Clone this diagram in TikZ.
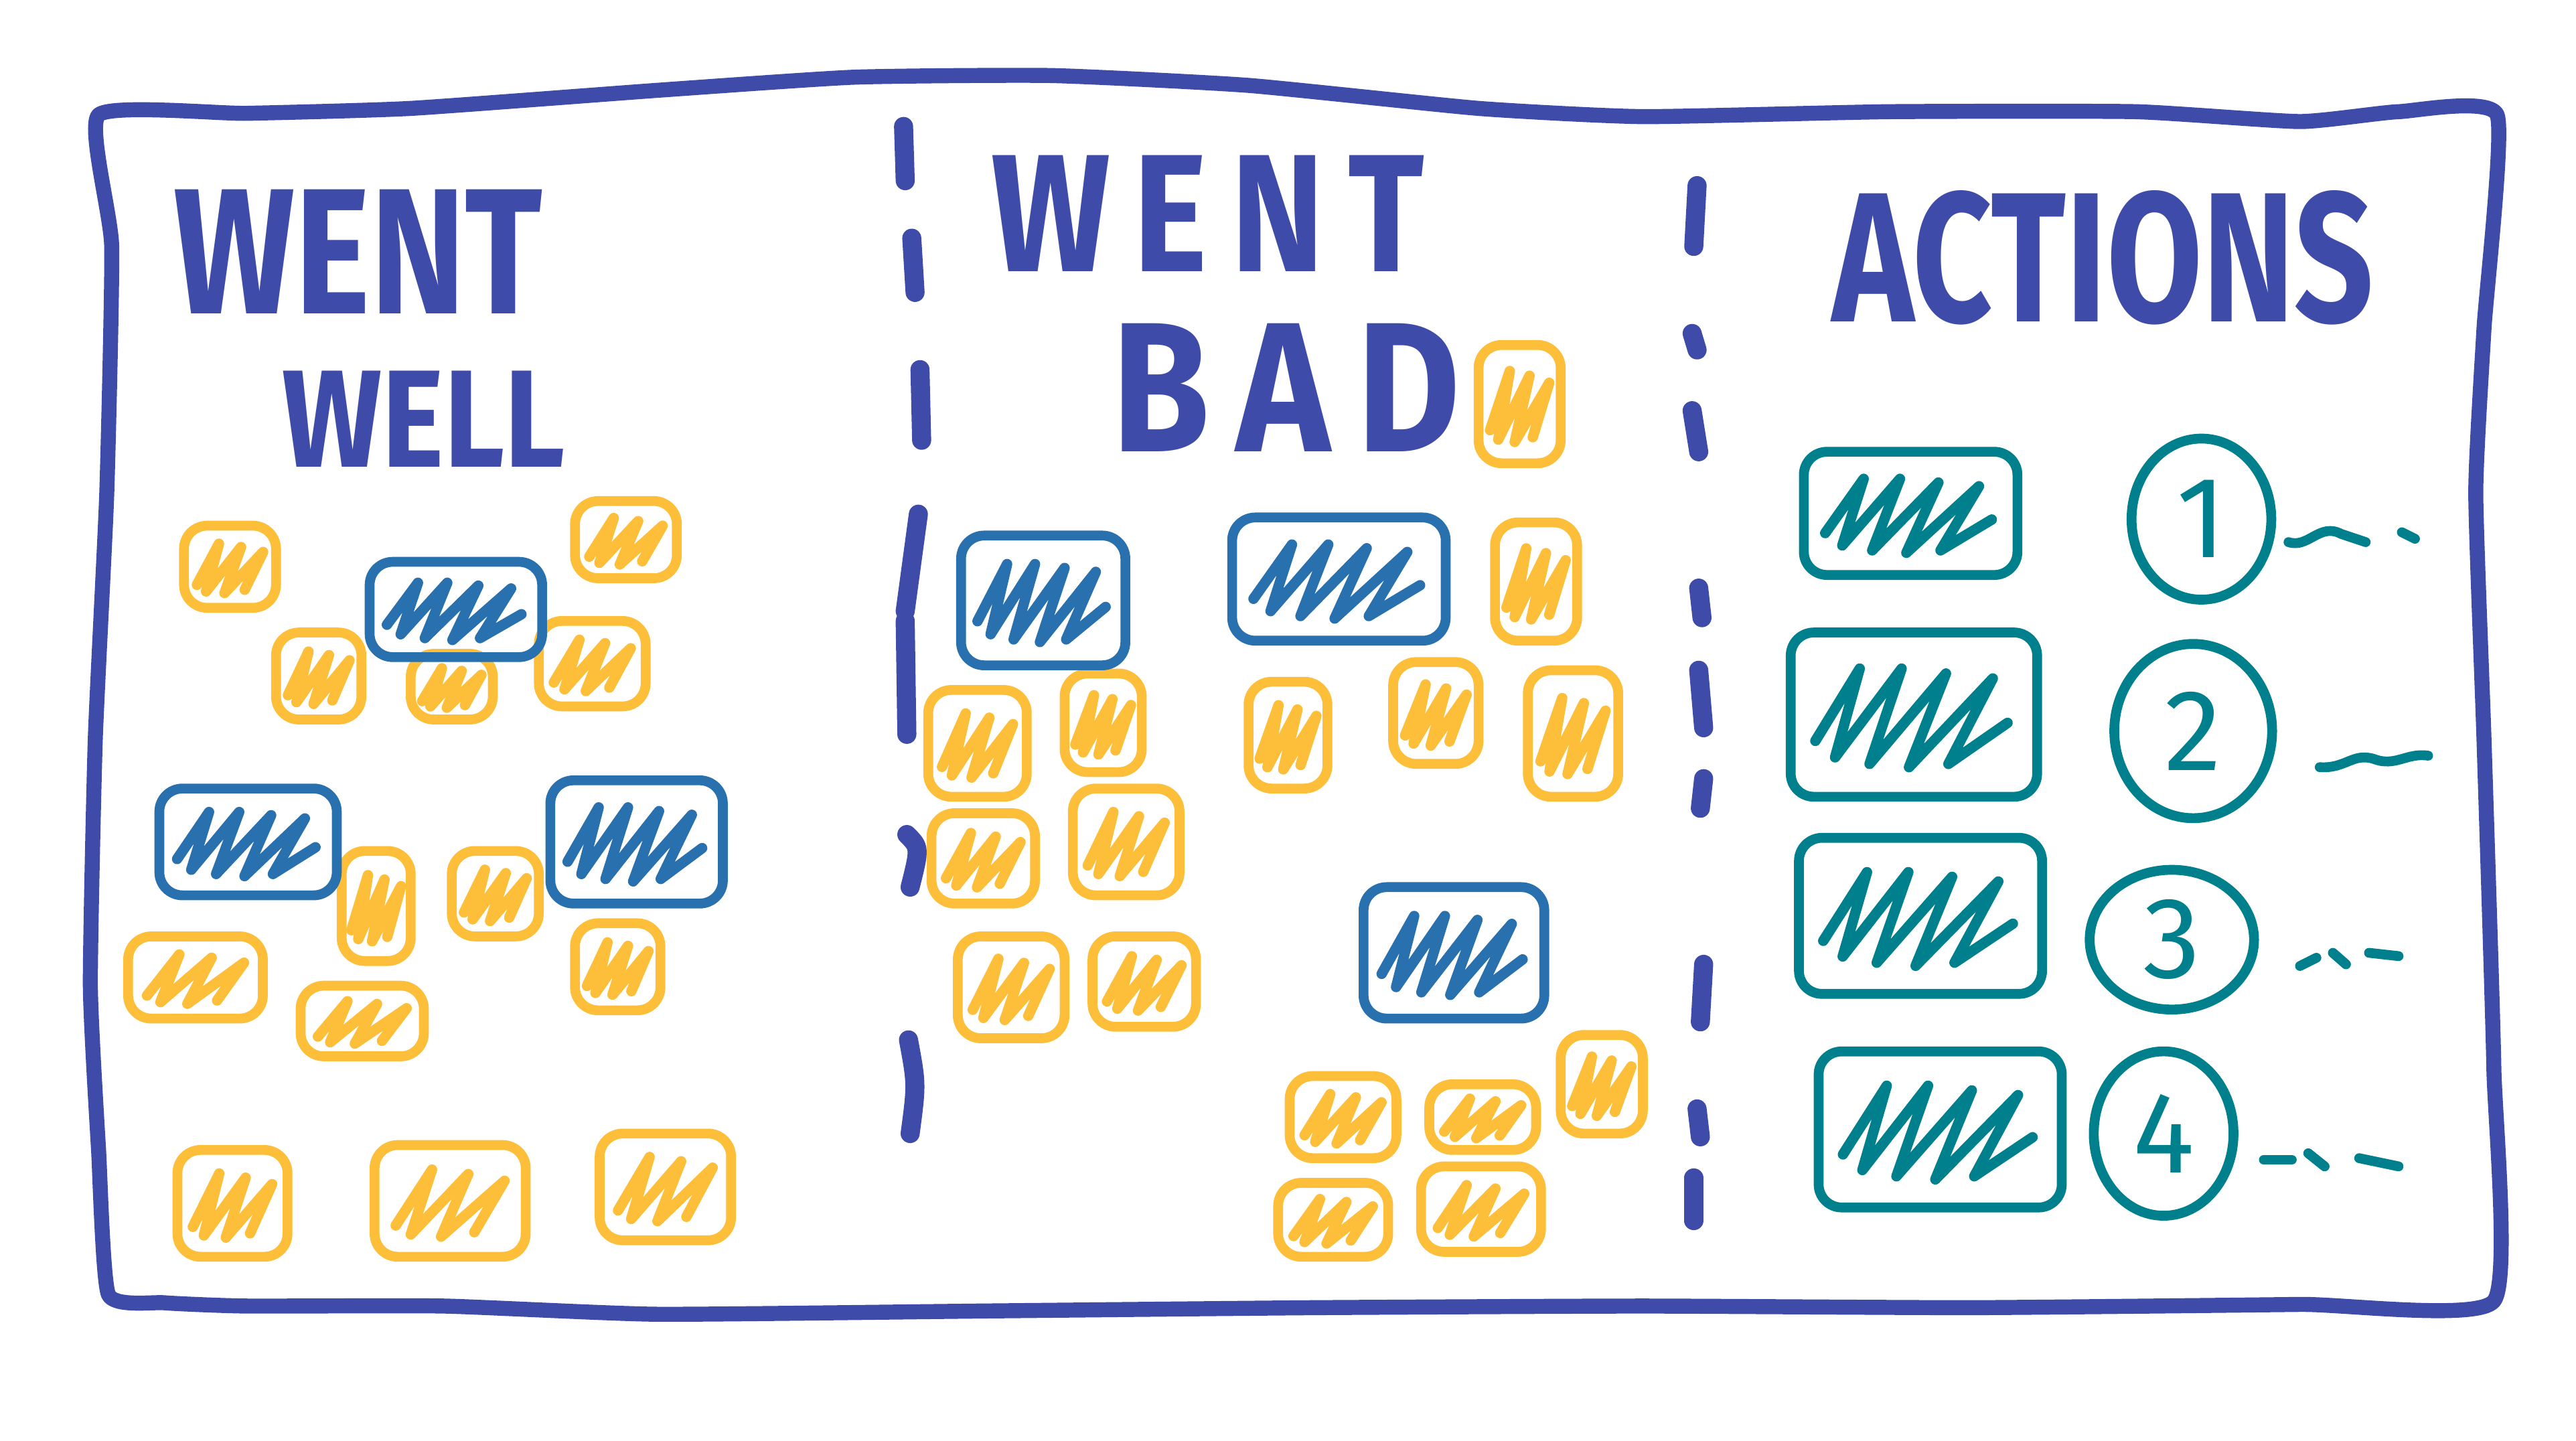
\documentclass[tikz,border=0pt]{standalone}
\usepackage{fontspec}
\usepackage{graphicx}
\newfontfamily\hand{Fira Sans}
\usetikzlibrary{fit,shapes.geometric}
\definecolor{ink}{RGB}{63,75,168}
\definecolor{sticky}{RGB}{253,190,58}
\definecolor{card}{RGB}{40,112,174}
\definecolor{act}{RGB}{0,128,140}
\tikzset{
  cardbox/.style={line width=1.7pt, rounded corners=4pt, inner sep=0pt},
  scrib/.style={line width=1.8pt, line cap=round, line join=round},
  frame/.style={draw=ink, line width=2.6pt, line cap=round, line join=round},
  sep/.style={draw=ink, line width=3.3pt, line cap=round},
  head/.style={text=ink, inner sep=0pt, font=\hand\bfseries\fontsize{31}{31}\selectfont},
  numc/.style={ellipse, draw=act, line width=1.7pt, inner sep=0pt, text=act,
    font=\hand\fontsize{20}{20}\selectfont},
  tilde/.style={draw=act, line width=1.7pt, line cap=round, line join=round},
}
\newcommand\card[6]{%
  \node[cardbox, draw=#6, fit={(#2,#3) (#4,#5)}] (#1) {};
  \def\X{#2}\def\Y{#3}\def\W{(#4-#2)}\def\H{(#5-#3)}%
  \draw[scrib, draw=#6] ({\X+0.14*\W},{\Y+0.72*\H}) -- ({\X+0.38*\W},{\Y+0.22*\H})
    -- ({\X+0.24*\W},{\Y+0.80*\H}) -- ({\X+0.62*\W},{\Y+0.26*\H})
    -- ({\X+0.44*\W},{\Y+0.82*\H}) -- ({\X+0.86*\W},{\Y+0.32*\H})
    -- ({\X+0.66*\W},{\Y+0.78*\H});
}
\newcommand\bigcard[6]{%
  \node[cardbox, draw=#6, fit={(#2,#3) (#4,#5)}] (#1) {};
  \def\X{#2}\def\Y{#3}\def\W{(#4-#2)}\def\H{(#5-#3)}%
  \draw[scrib, draw=#6] ({\X+0.10*\W},{\Y+0.66*\H}) -- ({\X+0.28*\W},{\Y+0.22*\H})
    -- ({\X+0.18*\W},{\Y+0.76*\H}) -- ({\X+0.45*\W},{\Y+0.22*\H})
    -- ({\X+0.32*\W},{\Y+0.80*\H}) -- ({\X+0.63*\W},{\Y+0.25*\H})
    -- ({\X+0.48*\W},{\Y+0.82*\H}) -- ({\X+0.82*\W},{\Y+0.28*\H})
    -- ({\X+0.64*\W},{\Y+0.80*\H}) -- ({\X+0.88*\W},{\Y+0.55*\H});
}
\begin{document}
\begin{tikzpicture}[x=0.01cm, y=-0.01cm]
\useasboundingbox (0,0) rectangle (1568,877);
% outer frame
\draw[frame] plot[smooth cycle, tension=0.3] coordinates {
  (60,70) (150,69) (250,66) (400,55) (520,47) (640,46) (760,52) (900,66) (1000,71)
  (1150,68) (1300,68) (1400,74) (1460,68) (1520,70)
  (1512,200) (1507,300) (1512,450) (1518,650) (1518,792)
  (1400,794) (1200,796) (1000,795) (800,796) (600,798) (400,800) (270,795)
  (150,795) (100,793) (66,788)
  (60,700) (55,600) (58,450) (65,300) (68,150) };
% separators
\coordinate (s1a) at (550,77);  \coordinate (s1b) at (551,110);
\coordinate (s2a) at (555,145); \coordinate (s2b) at (557,178);
\coordinate (s3a) at (560,225); \coordinate (s3b) at (561,268);
\coordinate (s4a) at (559,313); \coordinate (s4b) at (551,372);
\coordinate (s5a) at (551,378); \coordinate (s5b) at (552,447);
\coordinate (s7a) at (553,633); \coordinate (s7b) at (554,690);
\draw[sep] (s1a) -- (s1b);
\draw[sep] (s2a) -- (s2b);
\draw[sep] (s3a) -- (s3b);
\draw[sep] (s4a) -- (s4b);
\draw[sep] (s5a) -- (s5b);
\draw[sep] (552,508) .. controls (560,516) .. (554,540);
\draw[sep] (s7a) .. controls (558,660) .. (s7b);
\draw[sep] (1033,113) -- (1031,150);
\draw[sep] (1030,203) -- (1033,213);
\draw[sep] (1030,250) -- (1034,275);
\draw[sep] (1034,358) -- (1036,376);
\draw[sep] (1034,408) -- (1037,443);
\draw[sep] (1037,474) -- (1035,492);
\draw[sep] (1037,587) -- (1035,622);
\draw[sep] (1033,675) -- (1035,692);
\draw[sep] (1031,717) -- (1031,743);
% headings
\node[head] (h1) at (218,153) {\scalebox{0.8}[1]{WENT}};
\node[head, font=\hand\bfseries\fontsize{24}{24}\selectfont] (h2) at (258,255) {\scalebox{0.85}[1]{WELL}};
\node[head, font=\hand\bfseries\fontsize{29}{29}\selectfont] (h3) at (735,130) {\scalebox{0.84}[1]{W\,E\,N\,T}};
\node[head, font=\hand\bfseries\fontsize{32}{32}\selectfont] (h4) at (783,236) {\scalebox{0.86}[1]{B\,A\,D}};
\node[head, font=\hand\bfseries\fontsize{32}{32}\selectfont] (h5) at (1280,157) {\scalebox{0.75}[1]{ACTIONS}};
% went well
\card{w1}{112}{320}{168}{370}{sticky}
\card{w2}{350}{305}{412}{352}{sticky}
\card{w3}{168}{385}{220}{438}{sticky}
\card{w4}{250}{398}{300}{438}{sticky}
\card{w5}{328}{378}{393}{430}{sticky}
\card{w6}{78}{570}{160}{620}{sticky}
\card{w7}{208}{518}{250}{585}{sticky}
\card{w8}{275}{518}{328}{570}{sticky}
\card{w9}{183}{600}{258}{643}{sticky}
\card{w10}{350}{562}{402}{615}{sticky}
\card{w11}{108}{700}{175}{765}{sticky}
\card{w12}{228}{697}{320}{765}{sticky}
\card{w13}{365}{690}{445}{755}{sticky}
\bigcard{wb1}{225}{342}{330}{400}{card}
\bigcard{wb2}{97}{480}{205}{545}{card}
\bigcard{wb3}{335}{475}{440}{550}{card}
% went bad
\card{b1}{900}{210}{950}{282}{sticky}
\card{b2}{910}{318}{960}{390}{sticky}
\card{b3}{565}{420}{625}{485}{sticky}
\card{b4}{648}{410}{695}{470}{sticky}
\card{b5}{760}{415}{808}{480}{sticky}
\card{b6}{848}{403}{900}{465}{sticky}
\card{b7}{930}{408}{985}{485}{sticky}
\card{b8}{567}{495}{630}{550}{sticky}
\card{b9}{653}{480}{718}{545}{sticky}
\card{b10}{583}{570}{648}{632}{sticky}
\card{b11}{665}{570}{728}{625}{sticky}
\card{b12}{785}{655}{850}{705}{sticky}
\card{b13}{870}{660}{935}{700}{sticky}
\card{b14}{950}{630}{1000}{690}{sticky}
\card{b15}{778}{720}{845}{765}{sticky}
\card{b16}{865}{710}{938}{762}{sticky}
\bigcard{bb1}{585}{326}{685}{405}{card}
\bigcard{bb2}{750}{315}{880}{390}{card}
\bigcard{bb3}{830}{540}{940}{620}{card}
% actions
\bigcard{a1}{1098}{275}{1228}{350}{act}
\bigcard{a2}{1090}{385}{1240}{485}{act}
\bigcard{a3}{1095}{510}{1243}{605}{act}
\bigcard{a4}{1107}{640}{1255}{735}{act}
\node[numc, minimum width=0.85cm, minimum height=0.98cm] (n1) at (1340,316) {1};
\node[numc, minimum width=0.96cm, minimum height=1.06cm] (n2) at (1335,445) {2};
\node[numc, minimum width=1.00cm, minimum height=0.85cm] (n3) at (1322,572) {3};
\node[numc, minimum width=0.85cm, minimum height=1.00cm] (n4) at (1317,690) {4};
\draw[tilde] (1393,330) .. controls (1405,334) and (1412,318) .. (1425,325) -- (1440,330);
\draw[tilde] (1462,324) -- (1470,328);
\draw[tilde] (1412,467) .. controls (1428,468) and (1432,458) .. (1445,462)
  .. controls (1458,467) and (1465,458) .. (1478,460);
\draw[tilde] (1400,588) -- (1410,583);
\draw[tilde] (1420,580) -- (1428,587);
\draw[tilde] (1442,580) -- (1460,582);
\draw[tilde] (1378,706) -- (1395,706);
\draw[tilde] (1405,702) -- (1415,710);
\draw[tilde] (1436,705) -- (1460,710);
\end{tikzpicture}
\end{document}
